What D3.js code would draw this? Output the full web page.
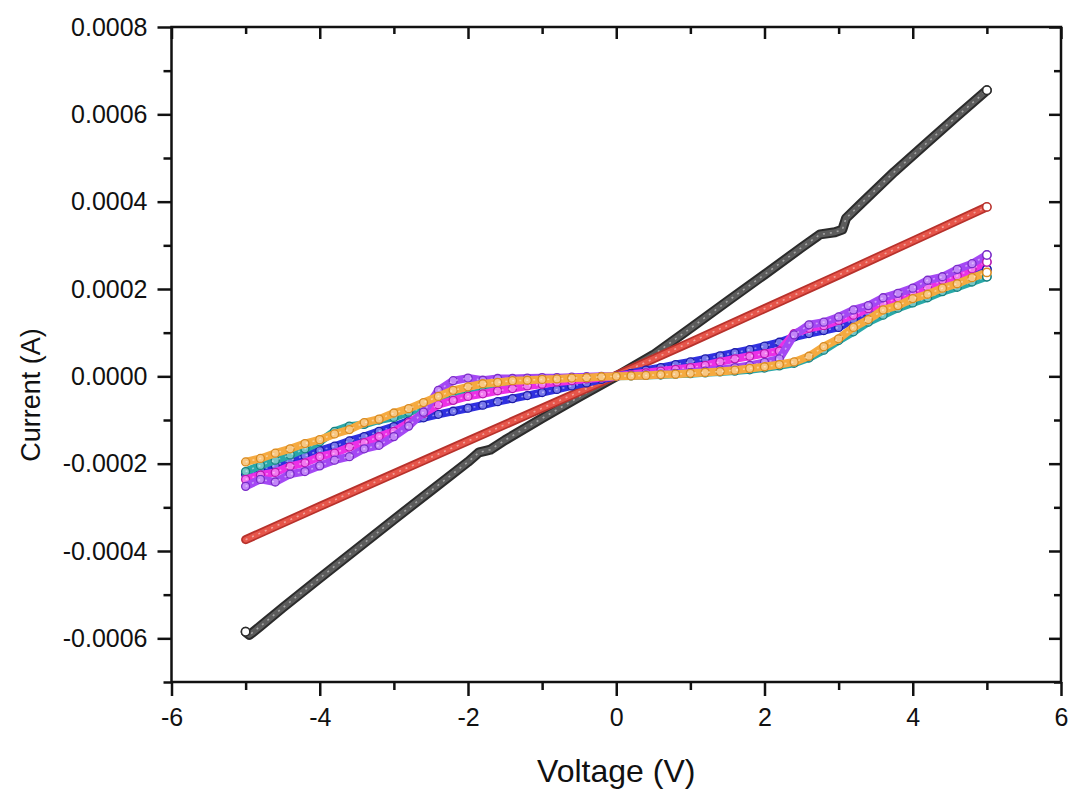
<!DOCTYPE html>
<html><head><meta charset="utf-8">
<script src="https://cdn.jsdelivr.net/npm/d3@7"></script>
<style>
body{margin:0;background:#fff}
svg{display:block}
text{font-family:"Liberation Sans",Arial,Helvetica,sans-serif;fill:#111}
</style>
</head><body>
<svg id="chart" width="1072" height="794"></svg>
<script>
// ---------- data ----------
const xMajorTicks = [-6, -4, -2, 0, 2, 4, 6];
const xMinorTicks = [-5, -3, -1, 1, 3, 5];
const yMajorTicks = [-0.0006, -0.0004, -0.0002, 0, 0.0002, 0.0004, 0.0006, 0.0008];
const yMinorTicks = [-0.0007, -0.0005, -0.0003, -0.0001, 0.0001, 0.0003, 0.0005, 0.0007];
const xLabel = "Voltage (V)";
const yLabel = "Current (A)";

// currents below are in units of 1e-4 A
const blackV = [-5, -4.95, -4.9, -4.8, -4.5, -4, -3.5, -3, -2.5, -2, -1.85, -1.75, -1.7, -1.5, -1, -0.5, 0, 0.5, 1, 1.5, 2, 2.5, 2.75, 2.95, 3.05, 3.1, 3.3, 3.75, 4.2, 4.6, 5];
const blackI = [-5.85, -5.92, -5.86, -5.72, -5.3, -4.62, -3.95, -3.28, -2.62, -1.96, -1.74, -1.7, -1.68, -1.46, -0.96, -0.47, 0, 0.49, 1.1, 1.72, 2.33, 2.95, 3.25, 3.3, 3.36, 3.62, 3.95, 4.68, 5.36, 5.96, 6.55];

const redV = [-5, -4, -3, -2, -1, 0, 1, 2, 3, 4, 5];
const redI = [-3.74, -2.98, -2.23, -1.48, -0.73, 0.02, 0.78, 1.55, 2.32, 3.1, 3.88];

const sweepV = [-5, -4.8, -4.6, -4.4, -4.2, -4, -3.8, -3.6, -3.4, -3.2, -3, -2.8, -2.6, -2.4, -2.2, -2, -1.8, -1.6, -1.4, -1.2, -1, -0.8, -0.6, -0.4, -0.2, 0, 0.2, 0.4, 0.6, 0.8, 1, 1.2, 1.4, 1.6, 1.8, 2, 2.2, 2.4, 2.6, 2.8, 3, 3.2, 3.4, 3.6, 3.8, 4, 4.2, 4.4, 4.6, 4.8, 5];
const blueI = [-2.25, -2.14, -2.04, -1.92, -1.82, -1.7, -1.6, -1.48, -1.38, -1.26, -1.15, -1.02, -0.95, -0.87, -0.8, -0.73, -0.66, -0.58, -0.51, -0.44, -0.37, -0.3, -0.22, -0.15, -0.07, 0, 0.07, 0.14, 0.2, 0.27, 0.33, 0.4, 0.47, 0.54, 0.61, 0.69, 0.78, 0.9, 0.98, 1.05, 1.12, 1.3, 1.45, 1.6, 1.72, 1.85, 1.97, 2.1, 2.22, 2.35, 2.45];
const tealI = [-2.18, -2.04, -1.92, -1.8, -1.66, -1.5, -1.26, -1.14, -1.1, -1.0, -0.94, -0.82, -0.72, -0.6, -0.5, -0.42, -0.35, -0.28, -0.22, -0.17, -0.13, -0.1, -0.07, -0.04, -0.02, 0, 0.01, 0.02, 0.03, 0.05, 0.06, 0.08, 0.1, 0.12, 0.15, 0.19, 0.24, 0.3, 0.42, 0.6, 0.82, 1.02, 1.24, 1.4, 1.56, 1.68, 1.8, 1.94, 2.04, 2.16, 2.28];
const magentaI = [-2.36, -2.26, -2.2, -2.06, -1.98, -1.84, -1.76, -1.62, -1.52, -1.38, -1.26, -1.06, -0.85, -0.65, -0.55, -0.46, -0.4, -0.33, -0.28, -0.22, -0.18, -0.13, -0.1, -0.06, -0.03, 0, 0.04, 0.08, 0.12, 0.16, 0.2, 0.25, 0.33, 0.4, 0.46, 0.52, 0.58, 0.98, 1.1, 1.16, 1.28, 1.4, 1.55, 1.66, 1.8, 1.92, 2.04, 2.2, 2.3, 2.46, 2.62];
const purpleI = [-2.52, -2.36, -2.42, -2.24, -2.18, -2.05, -1.92, -1.84, -1.66, -1.58, -1.38, -1.14, -0.82, -0.32, -0.1, -0.04, -0.09, -0.05, -0.05, -0.04, -0.03, -0.03, -0.02, -0.01, 0, 0, 0.02, 0.03, 0.05, 0.07, 0.09, 0.12, 0.15, 0.2, 0.25, 0.32, 0.4, 0.95, 1.18, 1.24, 1.36, 1.52, 1.62, 1.8, 1.9, 2.02, 2.2, 2.28, 2.45, 2.58, 2.78];
const orangeI = [-1.96, -1.88, -1.76, -1.66, -1.54, -1.45, -1.32, -1.22, -1.06, -0.98, -0.84, -0.74, -0.6, -0.46, -0.32, -0.24, -0.17, -0.14, -0.1, -0.09, -0.07, -0.06, -0.04, -0.03, -0.01, 0, 0.01, 0.02, 0.04, 0.05, 0.07, 0.09, 0.11, 0.14, 0.18, 0.22, 0.27, 0.33, 0.46, 0.68, 0.86, 1.12, 1.3, 1.52, 1.62, 1.78, 1.88, 2.02, 2.12, 2.26, 2.38];

const seriesNames = ["black", "red", "blue", "teal", "magenta", "purple", "orange"];
const seriesEdge = ["#2c2c2c", "#b8322c", "#1c1ca8", "#178080", "#b818b0", "#7a2cc8", "#d88a20"];
const seriesMain = ["#5c5c5c", "#e6554a", "#3030e0", "#2aa8a8", "#ec30e6", "#a448f4", "#f5aa40"];

// ---------- build ----------
const unit = 1e-4;
const zip = (vs, is) => vs.map((v, i) => [v, is[i] * unit]);
const seriesData = [
  zip(blackV, blackI), zip(redV, redI), zip(sweepV, blueI), zip(sweepV, tealI),
  zip(sweepV, magentaI), zip(sweepV, purpleI), zip(sweepV, orangeI)
];

const svg = d3.select("#chart");
const L = 171.5, R = 1061, T = 27, B = 682;
const x = d3.scaleLinear().domain([-6, 6]).range([L, R]);
const y = d3.scaleLinear().domain([-0.0007, 0.0008]).range([B, T]);

const line = d3.line().x(d => x(d[0])).y(d => y(d[1]));

const gData = svg.append("g");
seriesData.forEach((data, k) => {
  const g = gData.append("g").attr("class", "series-" + seriesNames[k]);
  if (k < 2) {
    g.append("path").datum(data).attr("d", line)
      .attr("fill", "none").attr("stroke", seriesEdge[k]).attr("stroke-width", k === 0 ? 10 : 9)
      .attr("stroke-linejoin", "round").attr("stroke-linecap", "round");
    g.append("path").datum(data).attr("d", line)
      .attr("fill", "none").attr("stroke", seriesMain[k]).attr("stroke-width", k === 0 ? 6 : 5.5)
      .attr("stroke-linejoin", "round").attr("stroke-linecap", "round");
  } else {
    g.append("path").datum(data).attr("d", line)
      .attr("fill", "none").attr("stroke", seriesMain[k]).attr("stroke-width", 8)
      .attr("stroke-linejoin", "round").attr("stroke-linecap", "round");
    g.selectAll("circle").data(data).join("circle")
      .attr("cx", d => x(d[0])).attr("cy", d => y(d[1])).attr("r", 4)
      .attr("fill", "#fff").attr("fill-opacity", 0.35)
      .attr("stroke", seriesEdge[k]).attr("stroke-width", 1.3);
  }
  g.append("path").datum(data).attr("d", line)
    .attr("fill", "none").attr("stroke", "#fff").attr("stroke-width", 1.6)
    .attr("stroke-opacity", 0.45).attr("stroke-dasharray", "2 5")
    .attr("stroke-linejoin", "round");
});
// open end markers at the sweep ends
seriesData.forEach((d, k) => {
  const last = d[d.length - 1];
  gData.append("circle").attr("cx", x(last[0])).attr("cy", y(last[1]))
    .attr("r", 4.2).attr("fill", "#fff").attr("stroke", seriesEdge[k]).attr("stroke-width", 1.5);
});
{
  const d = seriesData[0];
  gData.append("circle").attr("cx", x(d[0][0])).attr("cy", y(d[0][1]))
    .attr("r", 4.2).attr("fill", "#fff").attr("stroke", seriesEdge[0]).attr("stroke-width", 1.5);
}

// ---------- axes ----------
function styleAxis(g) {
  g.select(".domain").remove();
  g.selectAll(".tick line").attr("stroke", "#111").attr("stroke-width", 2.5);
}
const fs = 25;
const ff = "Liberation Sans, Arial, sans-serif";
// bottom
svg.append("g").attr("transform", `translate(0,${B})`)
  .call(d3.axisBottom(x).tickValues(xMajorTicks).tickSize(14).tickPadding(12).tickFormat(d => String(d)))
  .call(styleAxis)
  .call(g => g.selectAll("text").attr("font-size", fs).attr("fill", "#111").attr("font-family", ff));
svg.append("g").attr("transform", `translate(0,${B})`)
  .call(d3.axisBottom(x).tickValues(xMinorTicks).tickSize(8).tickFormat(""))
  .call(styleAxis);
// top (inward)
svg.append("g").attr("transform", `translate(0,${T})`)
  .call(d3.axisTop(x).tickValues(xMajorTicks).tickSize(-12).tickFormat(""))
  .call(styleAxis);
svg.append("g").attr("transform", `translate(0,${T})`)
  .call(d3.axisTop(x).tickValues(xMinorTicks).tickSize(-7).tickFormat(""))
  .call(styleAxis);
// left
svg.append("g").attr("transform", `translate(${L},0)`)
  .call(d3.axisLeft(y).tickValues(yMajorTicks).tickSize(14).tickPadding(10).tickFormat(d => d.toFixed(4)))
  .call(styleAxis)
  .call(g => g.selectAll("text").attr("font-size", fs).attr("fill", "#111").attr("font-family", ff));
svg.append("g").attr("transform", `translate(${L},0)`)
  .call(d3.axisLeft(y).tickValues(yMinorTicks).tickSize(8).tickFormat(""))
  .call(styleAxis);
// right (inward)
svg.append("g").attr("transform", `translate(${R},0)`)
  .call(d3.axisRight(y).tickValues(yMajorTicks).tickSize(-12).tickFormat(""))
  .call(styleAxis);
svg.append("g").attr("transform", `translate(${R},0)`)
  .call(d3.axisRight(y).tickValues(yMinorTicks).tickSize(-7).tickFormat(""))
  .call(styleAxis);

// frame
svg.append("rect").attr("x", L).attr("y", T).attr("width", R - L).attr("height", B - T)
  .attr("fill", "none").attr("stroke", "#111").attr("stroke-width", 2.5);

// titles
svg.append("text").attr("x", (L + R) / 2).attr("y", 782).attr("text-anchor", "middle")
  .attr("font-size", 32).text(xLabel);
svg.append("text").attr("transform", "translate(40,395) rotate(-90)").attr("text-anchor", "middle")
  .attr("font-size", 27).text(yLabel);
</script>
</body></html>
